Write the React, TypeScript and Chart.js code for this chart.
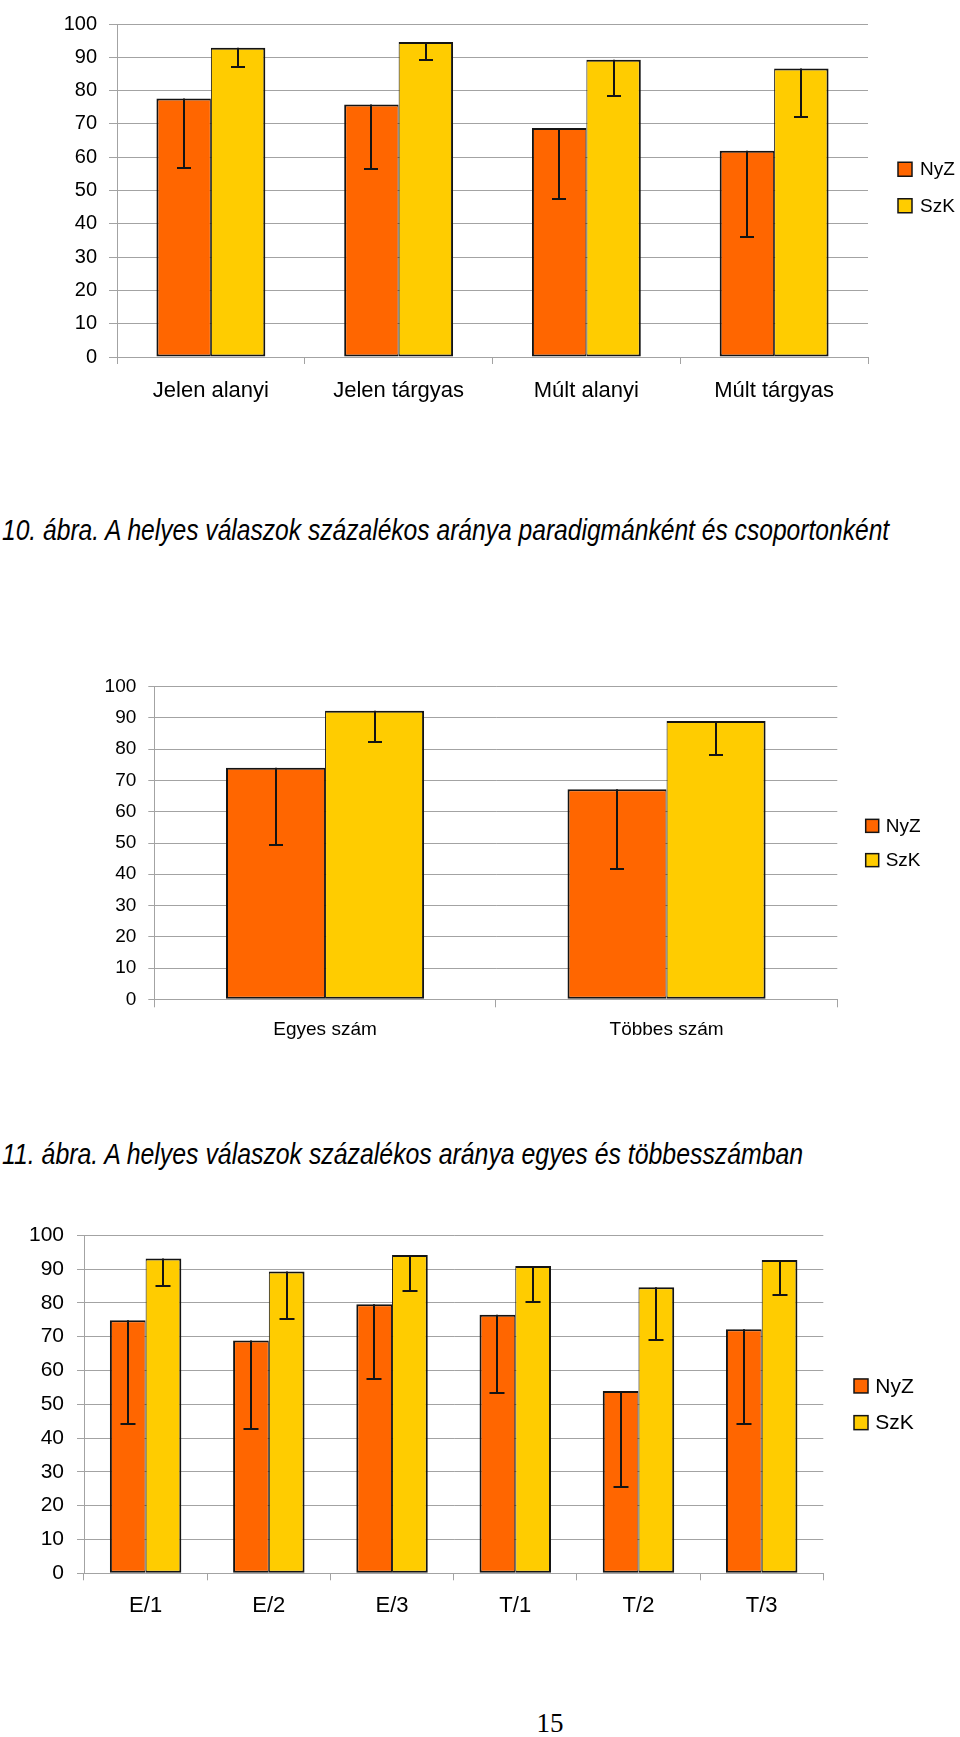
import React, { useEffect, useRef } from 'react';
import { Chart, registerables } from 'chart.js';

Chart.register(...registerables);

const FONT = "'Liberation Sans', Arial, Helvetica, sans-serif";
const CAPTION_FONT = "'Liberation Sans Narrow', 'Liberation Sans', Arial, sans-serif";

// ---- Chart 1 data ----
const categories1 = ['Jelen alanyi', 'Jelen tárgyas', 'Múlt alanyi', 'Múlt tárgyas'];
const nyz1 = [77.6, 75.8, 68.8, 61.9];
const nyz1Low = [56.9, 56.5, 47.3, 36.1];
const szk1 = [92.9, 94.6, 89.3, 86.6];
const szk1Low = [87.0, 89.3, 78.5, 72.1];

// ---- Chart 2 data ----
const categories2 = ['Egyes szám', 'Többes szám'];
const nyz2 = [74.1, 67.2];
const nyz2Low = [49.3, 41.8];
const szk2 = [92.3, 89.0];
const szk2Low = [82.2, 78.2];

// ---- Chart 3 data ----
const categories3 = ['E/1', 'E/2', 'E/3', 'T/1', 'T/2', 'T/3'];
const nyz3 = [74.9, 68.9, 79.6, 76.5, 53.9, 72.2];
const nyz3Low = [44.2, 42.6, 57.6, 53.3, 25.4, 44.2];
const szk3 = [93.1, 89.3, 94.2, 90.9, 84.6, 92.7];
const szk3Low = [85.1, 75.3, 83.4, 80.3, 68.9, 82.4];

const seriesNames = ['NyZ', 'SzK'];
const yTicksMin = 0;
const yTicksMax = 100;
const yStep = 10;

const caption1 = '10. ábra. A helyes válaszok százalékos aránya paradigmánként és csoportonként';
const caption2 = '11. ábra. A helyes válaszok százalékos aránya egyes és többesszámban';
const pageNumber = '15';

const ORANGE = '#FF6600';
const YELLOW = '#FFCC00';
const EDGE = '#141414';
const GRID = '#a3a3a3';

const errorBarPlugin = {
  id: 'errorBars',
  afterDatasetsDraw(chart: any, _args: any, opts: any) {
    const { ctx } = chart;
    const y = chart.scales.y;
    ctx.save();
    ctx.strokeStyle = EDGE;
    ctx.lineWidth = opts.lineWidth || 2;
    const cap = opts.cap || 14;
    chart.data.datasets.forEach((ds: any, di: number) => {
      const lows = ds.errLow;
      if (!lows) return;
      const meta = chart.getDatasetMeta(di);
      meta.data.forEach((bar: any, i: number) => {
        const low = lows[i];
        if (low == null) return;
        const x = Math.round(bar.x);
        const yTop = bar.y;
        const yLow = Math.round(y.getPixelForValue(low));
        ctx.beginPath();
        ctx.moveTo(x, yTop);
        ctx.lineTo(x, yLow);
        ctx.moveTo(x - cap / 2, yLow);
        ctx.lineTo(x + cap / 2, yLow);
        ctx.stroke();
      });
    });
    ctx.restore();
  },
};

const sideLegendPlugin = {
  id: 'sideLegend',
  afterDraw(chart: any, _args: any, opts: any) {
    const { ctx, chartArea } = chart;
    const n = chart.data.datasets.length;
    const cy = (chartArea.top + chartArea.bottom) / 2 + (opts.shift || 0);
    ctx.save();
    ctx.font = `${opts.fontSize}px ${FONT}`;
    ctx.textBaseline = 'middle';
    ctx.textAlign = 'left';
    chart.data.datasets.forEach((ds: any, i: number) => {
      const yc = cy + (i - (n - 1) / 2) * opts.spacing;
      const x0 = chartArea.right + opts.gap;
      const b = opts.box;
      ctx.fillStyle = ds.backgroundColor;
      ctx.fillRect(x0, yc - b / 2, b, b);
      ctx.strokeStyle = EDGE;
      ctx.lineWidth = 1.5;
      ctx.strokeRect(x0, yc - b / 2, b, b);
      ctx.fillStyle = '#000';
      ctx.fillText(ds.label, x0 + b + opts.textGap, yc + 1);
    });
    ctx.restore();
  },
};

type Spec = {
  labels: string[];
  nyz: number[];
  nyzLow: number[];
  szk: number[];
  szkLow: number[];
  width: number;
  height: number;
  padding: { top: number; right: number; bottom: number; left: number };
  yWidth: number;
  yTick: number;
  yPad: number;
  yFont: number;
  xTick: number;
  xPad: number;
  xFont: number;
  legend: { gap: number; box: number; spacing: number; fontSize: number; textGap: number; shift?: number };
  cap: number;
};

function makeConfig(spec: Spec): any {
  const common = {
    borderColor: EDGE,
    borderSkipped: false,
    categoryPercentage: 0.58,
    barPercentage: 1,
  };
  return {
    type: 'bar',
    data: {
      labels: spec.labels,
      datasets: [
        {
          ...common,
          label: seriesNames[0],
          data: spec.nyz,
          errLow: spec.nyzLow,
          backgroundColor: ORANGE,
          borderWidth: { top: 2, left: 2, right: 1, bottom: 2 },
        },
        {
          ...common,
          label: seriesNames[1],
          data: spec.szk,
          errLow: spec.szkLow,
          backgroundColor: YELLOW,
          borderWidth: { top: 2, left: 1, right: 2, bottom: 2 },
        },
      ],
    },
    options: {
      animation: false,
      responsive: false,
      maintainAspectRatio: false,
      events: [],
      layout: { padding: spec.padding },
      scales: {
        x: {
          offset: true,
          grid: {
            display: true,
            drawOnChartArea: false,
            drawTicks: true,
            tickLength: spec.xTick,
            color: GRID,
            offset: true,
          },
          border: { display: true, color: GRID, width: 1 },
          ticks: {
            font: { size: spec.xFont, family: FONT },
            color: '#000',
            padding: spec.xPad,
            maxRotation: 0,
            autoSkip: false,
          },
        },
        y: {
          min: yTicksMin,
          max: yTicksMax,
          afterFit: (s: any) => {
            s.width = spec.yWidth;
          },
          grid: { color: GRID, tickLength: spec.yTick, drawTicks: true },
          border: { display: true, color: GRID, width: 1 },
          ticks: {
            stepSize: yStep,
            font: { size: spec.yFont, family: FONT },
            color: '#000',
            padding: spec.yPad,
          },
        },
      },
      plugins: {
        legend: { display: false },
        tooltip: { enabled: false },
        sideLegend: spec.legend,
        errorBars: { cap: spec.cap, lineWidth: 2 },
      },
    },
    plugins: [errorBarPlugin, sideLegendPlugin],
  };
}

function BarChart({ spec, top }: { spec: Spec; top: number }) {
  const ref = useRef<HTMLCanvasElement | null>(null);
  useEffect(() => {
    if (!ref.current) return;
    const chart = new Chart(ref.current, makeConfig(spec));
    return () => chart.destroy();
  }, [spec]);
  return (
    <canvas
      ref={ref}
      width={spec.width}
      height={spec.height}
      style={{ position: 'absolute', left: 0, top, width: spec.width, height: spec.height, display: 'block' }}
    />
  );
}

function fitScale(text: string, font: string, target: number): number {
  try {
    const c = document.createElement('canvas').getContext('2d');
    if (!c) return 1;
    c.font = font;
    const w = c.measureText(text).width;
    return w > 0 ? target / w : 1;
  } catch (e) {
    return 1;
  }
}

function Caption({ text, top, width }: { text: string; top: number; width: number }) {
  const s = fitScale(text, `italic 30px ${CAPTION_FONT}`, width);
  return (
    <div
      style={{
        position: 'absolute',
        left: 2,
        top,
        fontFamily: CAPTION_FONT,
        fontStyle: 'italic',
        fontSize: 30,
        lineHeight: '30px',
        whiteSpace: 'nowrap',
        color: '#000',
        transform: `scaleX(${s})`,
        transformOrigin: '0 0',
      }}
    >
      {text}
    </div>
  );
}

const spec1: Spec = {
  labels: categories1,
  nyz: nyz1,
  nyzLow: nyz1Low,
  szk: szk1,
  szkLow: szk1Low,
  width: 960,
  height: 420,
  padding: { top: 14.3, right: 92, bottom: 2.6, left: 0 },
  yWidth: 117,
  yTick: 8,
  yPad: 12,
  yFont: 20,
  xTick: 7,
  xPad: 13.5,
  xFont: 22,
  legend: { gap: 30, box: 14, spacing: 36.5, fontSize: 19, textGap: 8, shift: -3 },
  cap: 14,
};

const spec2: Spec = {
  labels: categories2,
  nyz: nyz2,
  nyzLow: nyz2Low,
  szk: szk2,
  szkLow: szk2Low,
  width: 960,
  height: 480,
  padding: { top: 86.7, right: 122.7, bottom: 28.5, left: 0 },
  yWidth: 154.3,
  yTick: 6,
  yPad: 12,
  yFont: 19,
  xTick: 8,
  xPad: 10.7,
  xFont: 19,
  legend: { gap: 28.4, box: 13, spacing: 34.3, fontSize: 19, textGap: 7 },
  cap: 14,
};

const spec3: Spec = {
  labels: categories3,
  nyz: nyz3,
  nyzLow: nyz3Low,
  szk: szk3,
  szkLow: szk3Low,
  width: 960,
  height: 500,
  padding: { top: 55.3, right: 136.7, bottom: 48.9, left: 0 },
  yWidth: 84,
  yTick: 7,
  yPad: 13,
  yFont: 21,
  xTick: 7,
  xPad: 12.2,
  xFont: 22,
  legend: { gap: 30.7, box: 14, spacing: 36.7, fontSize: 21, textGap: 7.3 },
  cap: 15,
};

export default function App() {
  return (
    <div
      style={{
        position: 'absolute',
        left: 0,
        top: 0,
        width: 960,
        height: 1737,
        background: '#fff',
        overflow: 'hidden',
      }}
    >
      <BarChart spec={spec1} top={0} />
      <Caption text={caption1} top={514.6} width={889} />
      <BarChart spec={spec2} top={600} />
      <Caption text={caption2} top={1138.6} width={803} />
      <BarChart spec={spec3} top={1180} />
      <div
        style={{
          position: 'absolute',
          left: 500,
          width: 100,
          top: 1710.4,
          textAlign: 'center',
          fontFamily: "'Liberation Serif', 'Times New Roman', serif",
          fontSize: 27,
          lineHeight: '27px',
          color: '#000',
        }}
      >
        {pageNumber}
      </div>
    </div>
  );
}
